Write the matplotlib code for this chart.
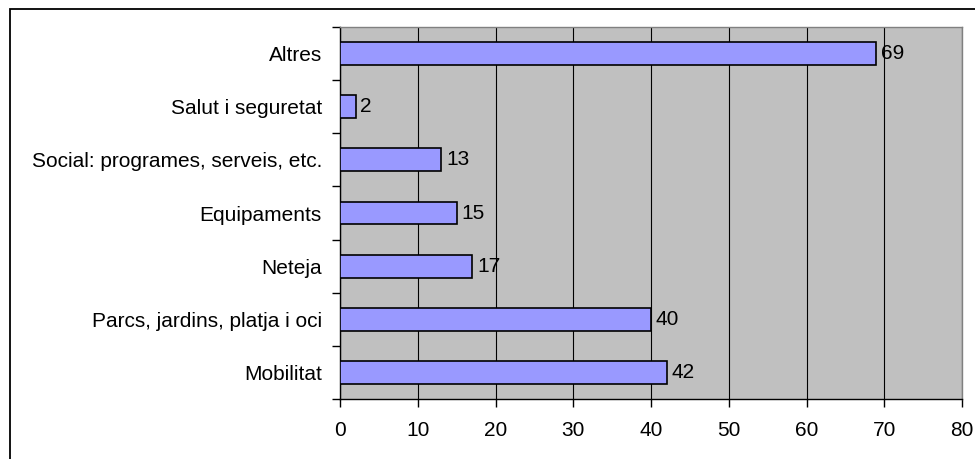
import matplotlib
matplotlib.use("Agg")
import matplotlib.pyplot as plt
from matplotlib.patches import Rectangle

categories = ["Mobilitat", "Parcs, jardins, platja i oci", "Neteja", "Equipaments",
              "Social: programes, serveis, etc.", "Salut i seguretat", "Altres"]
values = [42, 40, 17, 15, 13, 2, 69]
xticks = [0, 10, 20, 30, 40, 50, 60, 70, 80]

plt.rcParams['font.family'] = ['Liberation Sans', 'DejaVu Sans']
FS = 15

W, H = 975, 459
fig = plt.figure(figsize=(W/100, H/100), dpi=100)
fig.patch.set_facecolor('white')

# outer frame (top and left visible)
fig.patches.append(Rectangle((9.5/W, -0.1), 1.2, 1 - 9.5/H + 0.1, transform=fig.transFigure,
                             fill=False, edgecolor='black', linewidth=1.3))

left, right, top, bottom = 340, 962, 27, 399
ax = fig.add_axes([left/W, 1 - bottom/H, (right-left)/W, (bottom-top)/H])
ax.set_facecolor('#C0C0C0')

y = list(range(len(categories)))
ax.barh(y, values, height=0.43, color='#9999FF', edgecolor='black', linewidth=1.2, zorder=3)
for yi, v in zip(y, values):
    ax.annotate(str(v), xy=(v, yi), xytext=(3.5, 0), textcoords='offset points',
                va='center', ha='left', fontsize=FS, zorder=4)

ax.set_xlim(0, 80)
ax.set_ylim(-0.5, len(categories) - 0.5)
ax.set_xticks(xticks)
ax.set_xticklabels([str(t) for t in xticks], fontsize=FS)
ax.set_yticks(y)
ax.set_yticklabels(categories, fontsize=FS)
ax.set_yticks([i - 0.5 for i in range(len(categories) + 1)], minor=True)
ax.tick_params(axis='y', which='major', length=0, pad=13)
ax.tick_params(axis='y', which='minor', length=6, width=1, direction='out', color='black')
ax.tick_params(axis='x', which='major', length=6, width=1, direction='out', pad=10)

ax.xaxis.grid(True, color='black', linewidth=0.8, zorder=1)
ax.set_axisbelow(True)
for s in ['top', 'right']:
    ax.spines[s].set_color('#808080')
    ax.spines[s].set_linewidth(1)
for s in ['left', 'bottom']:
    ax.spines[s].set_color('black')
    ax.spines[s].set_linewidth(1)

fig.savefig('out.png', dpi=100)
